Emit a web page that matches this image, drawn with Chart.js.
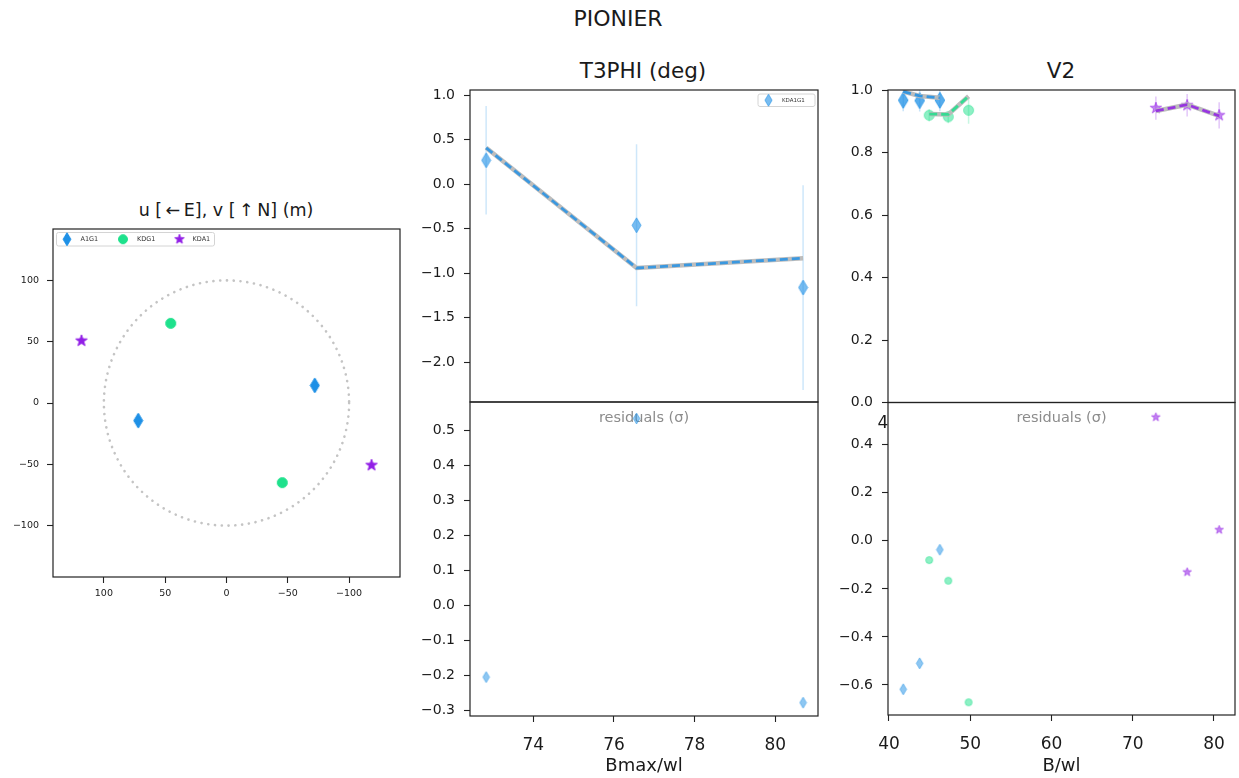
<!DOCTYPE html>
<html>
<head>
<meta charset="utf-8">
<script src="https://cdn.jsdelivr.net/npm/chart.js@4.4.1/dist/chart.umd.min.js"></script>
<style>
    body { margin: 0; background: #fff; font-family: 'DejaVu Sans', sans-serif; }
    #fig { position: relative; width: 1239px; height: 778px; overflow: hidden; background: #fff; }
    #fig canvas { position: absolute; }
    .title { position: absolute; transform: translate(-50%, -50%); white-space: nowrap; color: #1a1a1a; line-height: 1; }
</style>
</head>
<body>
<div id="fig">
    <div class="title" style="left:618px; top:19px; font-size:22px;">PIONIER</div>
    <div class="title" style="left:643px; top:71px; font-size:21.5px;">T3PHI (deg)</div>
    <div class="title" style="left:1061px; top:71px; font-size:21.5px;">V2</div>
    <div class="title" style="left:226px; top:211px; font-size:17.5px;">u [&#8201;&#8592;&#8201;E], v [&#8201;&#8593;&#8201;N] (m)</div>

    <canvas id="uvChart" width="412" height="378" style="left:0; top:222px;"></canvas>
    <canvas id="t3Chart" width="415" height="340" style="left:410px; top:80px;"></canvas>
    <canvas id="t3ResChart" width="415" height="382" style="left:410px; top:396px;"></canvas>
    <canvas id="v2Chart" width="411" height="340" style="left:828px; top:80px;"></canvas>
    <canvas id="v2ResChart" width="411" height="382" style="left:828px; top:396px;"></canvas>
</div>
<script>
// --- data ---
const baselines = ['A1G1', 'KDG1', 'KDA1'];
const triangleName = 'KDA1G1';

// u, v (m) for each baseline and its mirror point
const uA1G1 = [72.0, -72.0];
const vA1G1 = [-14.3, 14.3];
const uKDG1 = [45.5, -45.5];
const vKDG1 = [64.8, -64.8];
const uKDA1 = [118.3, -118.3];
const vKDA1 = [50.6, -50.6];
const uvCircleRadius = 100;

// closure phase
const t3Bmax = [72.83, 76.56, 80.69];
const t3phi = [0.27, -0.46, -1.16];
const t3phiErr = [0.61, 0.91, 1.15];
const t3phiModel = [0.41, -0.94, -0.83];
const t3phiResid = [-0.205, 0.533, -0.278];

// squared visibilities
const bA1G1 = [41.75, 43.78, 46.26];
const v2A1G1 = [0.967, 0.966, 0.967];
const v2A1G1Err = [0.035, 0.035, 0.035];
const v2A1G1Model = [0.995, 0.981, 0.975];
const v2A1G1Resid = [-0.618, -0.51, -0.037];

const bKDG1 = [44.95, 47.3, 49.8];
const v2KDG1 = [0.919, 0.914, 0.935];
const v2KDG1Err = [0.02, 0.02, 0.043];
const v2KDG1Model = [0.923, 0.922, 0.98];
const v2KDG1Resid = [-0.08, -0.166, -0.672];

const bKDA1 = [72.85, 76.7, 80.64];
const v2KDA1 = [0.942, 0.951, 0.919];
const v2KDA1Err = [0.037, 0.036, 0.042];
const v2KDA1Model = [0.933, 0.953, 0.917];
const v2KDA1Resid = [0.515, -0.13, 0.046];

// ticks
const uvTicks = [-100, -50, 0, 50, 100];
const t3phiTicks = [-2.0, -1.5, -1.0, -0.5, 0.0, 0.5, 1.0];
const t3ResidTicks = [-0.3, -0.2, -0.1, 0.0, 0.1, 0.2, 0.3, 0.4, 0.5];
const bmaxTicks = [74, 76, 78, 80];
const v2Ticks = [0.0, 0.2, 0.4, 0.6, 0.8, 1.0];
const v2ResidTicks = [-0.6, -0.4, -0.2, 0.0, 0.2, 0.4];
const bTicks = [40, 50, 60, 70, 80];

// --- styling helpers ---
const FONT = 'DejaVu Sans';
const TEXT = '#1a1a1a';
const blue = [30, 144, 230];
const green = [30, 225, 140];
const purple = [145, 30, 230];

Chart.defaults.font.family = FONT;

const rgba = (c, a) => `rgba(${c[0]},${c[1]},${c[2]},${a})`;
const pts = (xs, ys) => xs.map((x, i) => ({ x: x, y: ys[i] }));
const fmt1 = v => v.toFixed(1).replace('-', '\u2212');
const fmt0 = v => String(v).replace('-', '\u2212');

function makeMarker(shape, color, alpha, size) {
    const w = shape === 'diamond' ? Math.round(size * 0.6) + 2 : size + 2;
    const h = size + 2;
    const c = document.createElement('canvas');
    c.width = w;
    c.height = h;
    const ctx = c.getContext('2d');
    const cx = w / 2, cy = h / 2, r = size / 2;
    ctx.beginPath();
    if (shape === 'diamond') {
        ctx.moveTo(cx, cy - r);
        ctx.lineTo(cx + r * 0.6, cy);
        ctx.lineTo(cx, cy + r);
        ctx.lineTo(cx - r * 0.6, cy);
    } else if (shape === 'circle') {
        ctx.arc(cx, cy, r - 0.5, 0, Math.PI * 2);
    } else {
        for (let i = 0; i < 10; i++) {
            const a = -Math.PI / 2 + i * Math.PI / 5;
            const rr = i % 2 === 0 ? r : r * 0.4;
            ctx.lineTo(cx + rr * Math.cos(a), cy + rr * Math.sin(a));
        }
    }
    ctx.closePath();
    ctx.fillStyle = rgba(color, alpha);
    ctx.fill();
    ctx.lineWidth = 1;
    ctx.strokeStyle = rgba(color, alpha);
    ctx.stroke();
    return c;
}

function axis(min, max, ticks, fmt, fontSize, pad, fixed, horizontal) {
    return {
        type: 'linear',
        min: min,
        max: max,
        afterBuildTicks: s => { s.ticks = ticks.map(v => ({ value: v })); },
        afterFit: s => {
            // fixed axis size, and no extra padding for the end labels
            if (horizontal) {
                s.height = fixed;
                s.paddingLeft = 0;
                s.paddingRight = 0;
            } else {
                s.width = fixed;
                s.paddingTop = 0;
                s.paddingBottom = 0;
            }
        },
        border: { display: false },
        grid: { drawOnChartArea: false, drawTicks: true, tickLength: 6, tickColor: '#222', tickWidth: 1.1 },
        ticks: { color: TEXT, font: { size: fontSize }, padding: pad, callback: fmt, autoSkip: false, maxRotation: 0 }
    };
}

function hiddenAxis(min, max) {
    return {
        type: 'linear', min: min, max: max, display: false,
        afterFit: s => { s.paddingLeft = 0; s.paddingRight = 0; }
    };
}

function markerSet(data, marker, err, errColor) {
    return { data: data, pointStyle: marker, pointRadius: 5, yErr: err, errColor: errColor, order: 3 };
}

// model line: grey solid under a coloured dashed line
function modelLines(data, color) {
    return [
        { data: data, showLine: true, borderColor: 'rgba(185,185,185,0.95)', borderWidth: 4.5, pointRadius: 0, clip: 0, order: 2 },
        { data: data, showLine: true, borderColor: color, borderWidth: 2.8, borderDash: [8, 4], pointRadius: 0, clip: 0, order: 1 }
    ];
}

function baseOptions(scales, padding) {
    return {
        responsive: false,
        animation: false,
        events: [],
        layout: { padding: padding, autoPadding: false },
        plugins: { legend: { display: false }, tooltip: { enabled: false } },
        scales: scales
    };
}

// --- plugins ---
const framePlugin = {
    id: 'frame',
    afterDraw(chart) {
        const a = chart.chartArea, ctx = chart.ctx;
        ctx.save();
        ctx.strokeStyle = '#222';
        ctx.lineWidth = 1.2;
        ctx.strokeRect(a.left, a.top, a.right - a.left, a.bottom - a.top);
        ctx.restore();
    }
};

const errorBarPlugin = {
    id: 'errorBars',
    beforeDatasetsDraw(chart) {
        const { ctx, chartArea: a, scales: { x, y } } = chart;
        ctx.save();
        ctx.beginPath();
        ctx.rect(a.left, a.top, a.right - a.left, a.bottom - a.top);
        ctx.clip();
        chart.data.datasets.forEach(ds => {
            if (!ds.yErr) return;
            ctx.strokeStyle = ds.errColor;
            ctx.lineWidth = 1.5;
            ds.data.forEach((p, i) => {
                const px = x.getPixelForValue(p.x);
                ctx.beginPath();
                ctx.moveTo(px, y.getPixelForValue(p.y - ds.yErr[i]));
                ctx.lineTo(px, y.getPixelForValue(p.y + ds.yErr[i]));
                ctx.stroke();
            });
        });
        ctx.restore();
    }
};

Chart.register(framePlugin, errorBarPlugin);

function drawLegend(ctx, x, y, w, h, entries, fontSize) {
    ctx.save();
    ctx.beginPath();
    ctx.roundRect(x, y, w, h, 2);
    ctx.fillStyle = 'rgba(255,255,255,0.8)';
    ctx.fill();
    ctx.strokeStyle = '#d4d4d4';
    ctx.lineWidth = 1;
    ctx.stroke();
    ctx.fillStyle = '#333';
    ctx.font = `${fontSize}px ${FONT}`;
    ctx.textBaseline = 'middle';
    entries.forEach(e => {
        ctx.drawImage(e.marker, x + e.mx - e.marker.width / 2, y + h / 2 - e.marker.height / 2);
        ctx.fillText(e.label, x + e.tx, y + h / 2);
    });
    ctx.restore();
}

function residualLabel(chart) {
    const a = chart.chartArea, ctx = chart.ctx;
    ctx.save();
    ctx.fillStyle = '#8c8c8c';
    ctx.font = `14.5px ${FONT}`;
    ctx.textAlign = 'center';
    ctx.textBaseline = 'middle';
    ctx.fillText('residuals (\u03c3)', (a.left + a.right) / 2, a.top + 16);
    ctx.restore();
}

// --- u,v coverage ---
const uvMarkers = [
    makeMarker('diamond', blue, 1, 15),
    makeMarker('circle', green, 1, 11),
    makeMarker('star', purple, 1, 12)
];
const uvLegendMarkers = [
    makeMarker('diamond', blue, 1, 13),
    makeMarker('circle', green, 1, 10),
    makeMarker('star', purple, 1, 10)
];

new Chart(document.getElementById('uvChart'), {
    type: 'scatter',
    data: {
        datasets: [
            { label: baselines[0], data: pts(uA1G1, vA1G1), pointStyle: uvMarkers[0], pointRadius: 5 },
            { label: baselines[1], data: pts(uKDG1, vKDG1), pointStyle: uvMarkers[1], pointRadius: 5 },
            { label: baselines[2], data: pts(uKDA1, vKDA1), pointStyle: uvMarkers[2], pointRadius: 5 }
        ]
    },
    options: baseOptions({
        x: Object.assign(axis(-141.5, 141.5, uvTicks, fmt0, 9.5, 5, 23, true), { reverse: true }),
        y: axis(-141.5, 141.5, uvTicks, fmt0, 9.5, 8, 53, false)
    }, { top: 7, right: 12, bottom: 0, left: 0 }),
    plugins: [{
        id: 'uvExtras',
        beforeDatasetsDraw(chart) {
            const { ctx, scales: { x, y } } = chart;
            const cx = x.getPixelForValue(0), cy = y.getPixelForValue(0);
            const r = Math.abs(x.getPixelForValue(uvCircleRadius) - cx);
            ctx.save();
            ctx.strokeStyle = '#c4c4c4';
            ctx.lineWidth = 2.6;
            ctx.lineCap = 'round';
            ctx.setLineDash([0.1, 6.7]);
            ctx.beginPath();
            ctx.arc(cx, cy, r, 0, Math.PI * 2);
            ctx.stroke();
            ctx.restore();
        },
        afterDraw(chart) {
            const a = chart.chartArea;
            drawLegend(chart.ctx, a.left + 3.5, a.top + 3.5, 158, 13.5, [
                { marker: uvLegendMarkers[0], label: baselines[0], mx: 10.5, tx: 24 },
                { marker: uvLegendMarkers[1], label: baselines[1], mx: 66.5, tx: 80.5 },
                { marker: uvLegendMarkers[2], label: baselines[2], mx: 123, tx: 136 }
            ], 6.5);
        }
    }]
});

// --- T3PHI ---
const t3Marker = makeMarker('diamond', blue, 0.6, 15);
const t3LegendMarker = makeMarker('diamond', blue, 0.6, 12);

new Chart(document.getElementById('t3Chart'), {
    type: 'scatter',
    data: {
        datasets: [
            markerSet(pts(t3Bmax, t3phi), t3Marker, t3phiErr, rgba(blue, 0.22)),
            ...modelLines(pts(t3Bmax, t3phiModel), rgba(blue, 0.82))
        ]
    },
    options: baseOptions({
        x: hiddenAxis(72.43, 81.06),
        y: axis(-2.446, 1.06, t3phiTicks, fmt1, 14, 9, 60, false)
    }, { top: 10, right: 7, bottom: 18, left: 0 }),
    plugins: [{
        id: 't3Legend',
        afterDraw(chart) {
            const a = chart.chartArea;
            drawLegend(chart.ctx, a.right - 60, a.top + 4, 57, 12.5, [
                { marker: t3LegendMarker, label: triangleName, mx: 10.5, tx: 24 }
            ], 5.5);
        }
    }]
});

const t3ResMarker = makeMarker('diamond', blue, 0.5, 11);

new Chart(document.getElementById('t3ResChart'), {
    type: 'scatter',
    data: {
        datasets: [markerSet(pts(t3Bmax, t3phiResid), t3ResMarker)]
    },
    options: baseOptions({
        x: Object.assign(axis(72.43, 81.06, bmaxTicks, fmt0, 17, 13, 62, true), {
            title: { display: true, text: 'Bmax/wl', color: TEXT, font: { size: 18 }, padding: { top: 0, bottom: 1 } }
        }),
        y: axis(-0.316, 0.58, t3ResidTicks, fmt1, 14, 9, 60, false)
    }, { top: 6, right: 7, bottom: 0, left: 0 }),
    plugins: [{ id: 't3ResLabel', beforeDatasetsDraw: residualLabel }]
});

// --- V2 ---
new Chart(document.getElementById('v2Chart'), {
    type: 'scatter',
    data: {
        datasets: [
            markerSet(pts(bA1G1, v2A1G1), makeMarker('diamond', blue, 0.75, 16), v2A1G1Err, rgba(blue, 0.25)),
            markerSet(pts(bKDG1, v2KDG1), makeMarker('circle', green, 0.5, 11), v2KDG1Err, rgba(green, 0.25)),
            markerSet(pts(bKDA1, v2KDA1), makeMarker('star', purple, 0.55, 12), v2KDA1Err, rgba(purple, 0.25)),
            ...modelLines(pts(bA1G1, v2A1G1Model), rgba(blue, 0.85)),
            ...modelLines(pts(bKDG1, v2KDG1Model), rgba(green, 0.85)),
            ...modelLines(pts(bKDA1, v2KDA1Model), rgba(purple, 0.85))
        ]
    },
    options: baseOptions({
        x: hiddenAxis(39.88, 82.59),
        y: axis(0, 1.0, v2Ticks, fmt1, 14, 9, 60, false)
    }, { top: 10, right: 4, bottom: 17.5, left: 0 })
});

new Chart(document.getElementById('v2ResChart'), {
    type: 'scatter',
    data: {
        datasets: [
            markerSet(pts(bA1G1, v2A1G1Resid), makeMarker('diamond', blue, 0.5, 11)),
            markerSet(pts(bKDG1, v2KDG1Resid), makeMarker('circle', green, 0.5, 8)),
            markerSet(pts(bKDA1, v2KDA1Resid), makeMarker('star', purple, 0.55, 9))
        ]
    },
    options: baseOptions({
        x: Object.assign(axis(39.88, 82.59, bTicks, fmt0, 17, 13, 63, true), {
            title: { display: true, text: 'B/wl', color: TEXT, font: { size: 18 }, padding: { top: 0, bottom: 1 } }
        }),
        y: axis(-0.725, 0.576, v2ResidTicks, fmt1, 14, 9, 60, false)
    }, { top: 6.5, right: 4, bottom: 0, left: 0 }),
    plugins: [{
        id: 'v2ResLabel',
        beforeDatasetsDraw: residualLabel,
        afterDraw(chart) {
            // stray "4" sitting left of the residual panel
            const ctx = chart.ctx;
            ctx.save();
            ctx.fillStyle = TEXT;
            ctx.font = `17px ${FONT}`;
            ctx.textAlign = 'center';
            ctx.textBaseline = 'middle';
            ctx.fillText('4', 55, 28);
            ctx.restore();
        }
    }]
});
</script>
</body>
</html>
